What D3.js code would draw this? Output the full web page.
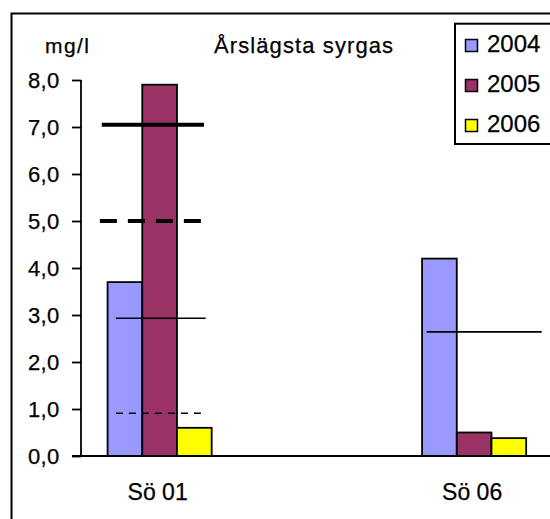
<!DOCTYPE html>
<html>
<head>
<meta charset="utf-8">
<script src="https://cdn.jsdelivr.net/npm/d3@7/dist/d3.min.js"></script>
<style>
    body { margin: 0; background: #fff; }
    svg { display: block; font-family: "Liberation Sans", Arial, sans-serif; }
    svg text { stroke: #000; stroke-width: 0.25px; }
</style>
</head>
<body>
<svg id="chart" width="550" height="519"></svg>
<script>
// sites (the middle slot is an empty category in the original sheet)
const sites = ['Sö 01', '', 'Sö 06'];
const years = ['2004', '2005', '2006'];

// lowest oxygen of the year, mg/l
const values2004 = [3.7, null, 4.2];
const values2005 = [7.9, null, 0.5];
const values2006 = [0.6, null, 0.38];

const yTicks = [0, 1, 2, 3, 4, 5, 6, 7, 8];

// drawn limit lines: site, value, kind
const limitSites = ['Sö 01', 'Sö 01', 'Sö 01', 'Sö 01', 'Sö 06'];
const limitValues = [7.05, 5.0, 2.93, 0.91, 2.64];
const limitKinds = ['thick', 'thickDash', 'thin', 'thinDash', 'thin'];

const colors = ['#9999ff', '#993366', '#ffff00'];

const series = [values2004, values2005, values2006];

const svg = d3.select('#chart');

const margin = {left: 81, top: 80, bottom: 456};
const bandW = 157.25;

let x = d3.scaleBand()
    .domain(sites)
    .range([margin.left, margin.left + bandW * sites.length])
    .padding(0);

let xYear = d3.scaleBand()
    .domain(years)
    .range([0, x.bandwidth()])
    .paddingInner(0)
    .paddingOuter(0.766);

let y = d3.scaleLinear()
    .domain([0, 8])
    .range([margin.bottom, margin.top]);

let fmt = d => d3.format('.1f')(d).replace('.', ',');

// outer frame
svg.append('rect')
    .attr('x', 11.5).attr('y', 13.5)
    .attr('width', 600).attr('height', 600)
    .attr('fill', 'none')
    .attr('stroke', '#000')
    .attr('stroke-width', 2);

// bars
let bars = svg.append('g');
series.forEach(function (vals, i) {
    bars.selectAll(null)
        .data(sites.map((s, j) => ({site: s, v: vals[j]})).filter(d => d.v != null))
        .enter().append('rect')
        .attr('x', d => x(d.site) + xYear(years[i]))
        .attr('width', xYear.bandwidth())
        .attr('y', d => y(d.v))
        .attr('height', d => y(0) - y(d.v))
        .attr('fill', colors[i])
        .attr('stroke', '#000')
        .attr('stroke-width', 1.8);
});

// y axis
let yAxis = d3.axisLeft(y)
    .tickValues(yTicks)
    .tickSize(9)
    .tickFormat('');
let gy = svg.append('g')
    .attr('transform', 'translate(' + margin.left + ',0)')
    .call(yAxis);
gy.select('.domain').attr('stroke-width', 1.8).attr('d', 'M0,' + y(8) + 'V' + y(0));
gy.selectAll('.tick line').attr('stroke-width', 1.8);

svg.append('g').selectAll('text')
    .data(yTicks)
    .enter().append('text')
    .attr('x', 59.5)
    .attr('y', d => y(d) + 7.8)
    .attr('text-anchor', 'end')
    .attr('font-size', 22)
    .attr('letter-spacing', '0.3px')
    .text(fmt);

// x axis line
svg.append('line')
    .attr('x1', margin.left - 9).attr('x2', 560)
    .attr('y1', y(0)).attr('y2', y(0))
    .attr('stroke', '#000')
    .attr('stroke-width', 1.8);

// category labels
svg.append('g').selectAll('text')
    .data(sites.filter(s => s.length))
    .enter().append('text')
    .attr('x', d => x(d) + x.bandwidth() / 2 - 2)
    .attr('y', 500)
    .attr('text-anchor', 'middle')
    .attr('font-size', 23)
    .text(d => d);

// limit lines
const lineStyles = {
    thick: {w: 4, dash: null, from: 0.132, to: 0.782},
    thickDash: {w: 4, dash: '17,11', from: 0.12, to: 0.775},
    thin: {w: 1.6, dash: null, from: 0.222, to: 0.793},
    thinDash: {w: 1.6, dash: '7,6', from: 0.222, to: 0.79}
};
const sö06Span = {from: 0.198, to: 0.93};

svg.append('g').selectAll('line')
    .data(limitValues.map((v, i) => ({v: v, site: limitSites[i], kind: limitKinds[i]})))
    .enter().append('line')
    .each(function (d) {
        let st = lineStyles[d.kind];
        let span = d.site === 'Sö 06' ? sö06Span : st;
        d3.select(this)
            .attr('x1', x(d.site) + span.from * x.bandwidth())
            .attr('x2', x(d.site) + span.to * x.bandwidth())
            .attr('y1', y(d.v)).attr('y2', y(d.v))
            .attr('stroke', '#000')
            .attr('stroke-width', st.w)
            .attr('stroke-dasharray', st.dash);
    });

// texts
svg.append('text')
    .attr('x', 45).attr('y', 52.5)
    .attr('font-size', 21)
    .attr('letter-spacing', '1.4px')
    .text('mg/l');

svg.append('text')
    .attr('x', 214).attr('y', 52.5)
    .attr('font-size', 22)
    .attr('letter-spacing', '1.1px')
    .text('Årslägsta syrgas');

// legend
let legend = svg.append('g');
legend.append('rect')
    .attr('x', 455).attr('y', 23.7)
    .attr('width', 96).attr('height', 120.3)
    .attr('fill', '#fff')
    .attr('stroke', '#000')
    .attr('stroke-width', 2);

years.forEach(function (yr, i) {
    legend.append('rect')
        .attr('x', 465.5).attr('y', 39.5 + i * 40)
        .attr('width', 12).attr('height', 12)
        .attr('fill', colors[i])
        .attr('stroke', '#000')
        .attr('stroke-width', 1.5);
    legend.append('text')
        .attr('x', 487).attr('y', 52.3 + i * 40)
        .attr('font-size', 24)
        .text(yr);
});
</script>
</body>
</html>
